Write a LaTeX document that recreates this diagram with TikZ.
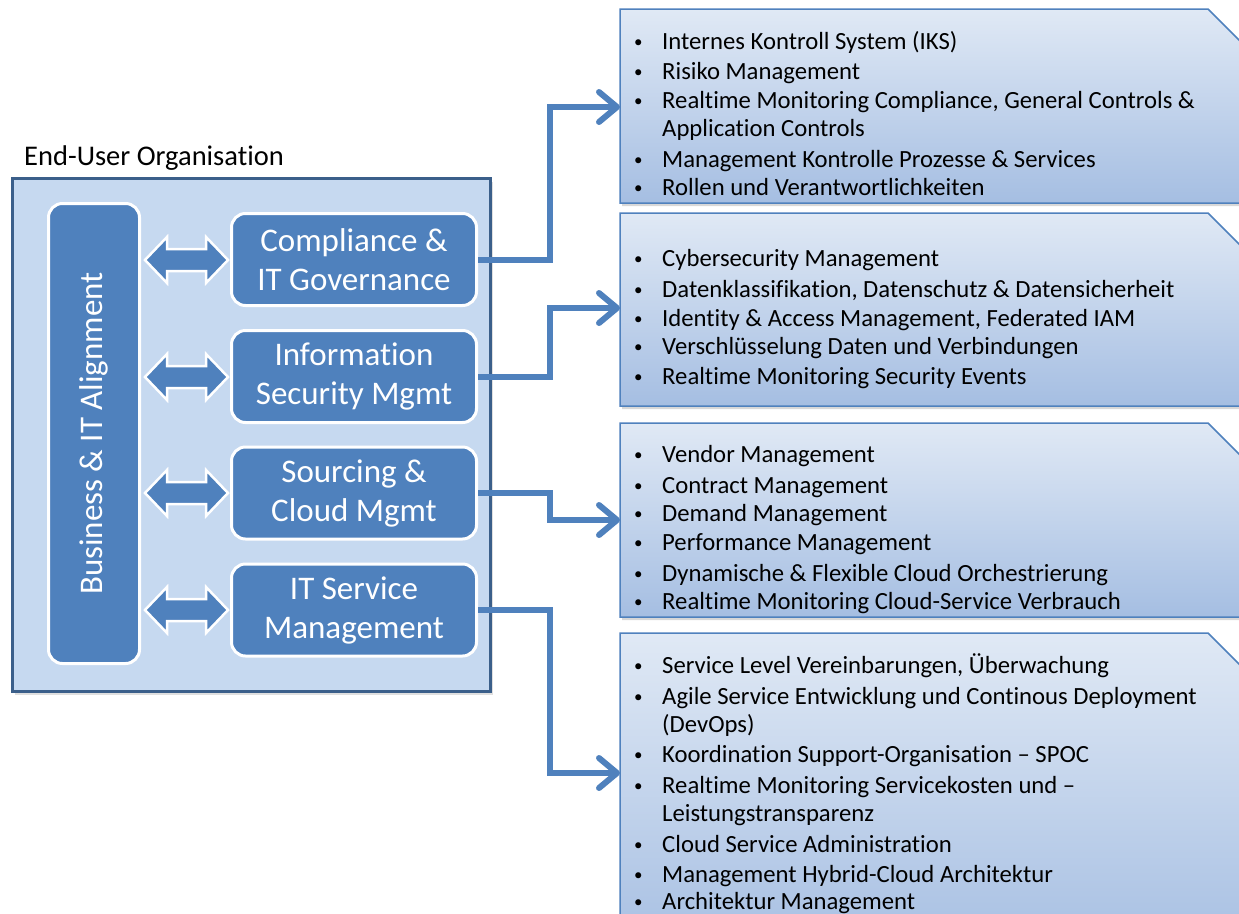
\documentclass[tikz,border=0pt]{standalone}
\usepackage{fontspec}
\setmainfont{Carlito}[Ligatures=NoCommon]
\usetikzlibrary{arrows.meta,shadows}
\definecolor{mblue}{HTML}{4F81BD}
\definecolor{dblue}{HTML}{3B5F8A}
\definecolor{lblue}{HTML}{C6D9F0}
\definecolor{gtop}{HTML}{E0E9F5}
\definecolor{gbot}{HTML}{A5BEE2}
\newcommand\dblarr[1]{\draw[dblarrow] (145,#1) -- (167,#1-23) -- (167,#1-11) -- (206,#1-11) -- (206,#1-23) -- (228,#1) -- (206,#1+23) -- (206,#1+11) -- (167,#1+11) -- (167,#1+23) -- cycle;}
\newcommand\lbox[2]{\path[listbox] (620,#1) -- (1208,#1) -- (1265,#1+57) -- (1265,#2) -- (620,#2) -- cycle;}
\newcommand\bulletmark{\makebox[28pt][l]{\raisebox{1.5pt}{\fontsize{17}{17}\selectfont •}}}
\newcommand\bitem[3]{\node[bul] (#1) at (634,#2) {\bulletmark#3};}
\newcommand\citem[3]{\node[bul] (#1) at (662,#2) {#3};}
\begin{document}
\begin{tikzpicture}[x=1pt,y=-1pt,
  outerbox/.style={draw=dblue, line width=3pt, fill=lblue, drop shadow={opacity=0.25, shadow xshift=2pt, shadow yshift=-3pt}},
  bluebox/.style={draw=white, line width=3pt, fill=mblue, rounded corners=14pt},
  boxlabel/.style={text=white, font=\fontsize{33}{39}\selectfont, align=center, inner sep=0pt},
  dblarrow/.style={draw=white, line width=2.5pt, fill=mblue, line join=miter},
  listbox/.style={draw=mblue, line width=1.5pt, top color=gtop, bottom color=gbot, drop shadow={opacity=0.3, shadow xshift=2pt, shadow yshift=-3pt}},
  conn/.style={draw=mblue, line width=6pt, -{Straight Barb[length=18pt,width=30pt,round]}},
  bul/.style={anchor=base west, inner sep=0pt, font=\fontsize{24.7}{29}\selectfont},
  ttl/.style={anchor=base west, inner sep=0pt, font=\fontsize{28.5}{32}\selectfont},
]
\useasboundingbox (0,0) rectangle (1239,913);
\fill[white] (0,0) rectangle (1239,913);

% left organisation block
\node[ttl] (title) at (24,165) {End-User Organisation};
\node[outerbox, minimum width=478pt, minimum height=513pt] (org) at (251.5,435) {};
\node[bluebox, boxlabel, rotate=90, minimum width=460pt, minimum height=91pt] (bia) at (94,433.5) {Business \& IT Alignment};
\node[bluebox, boxlabel, minimum width=245pt, minimum height=92pt] (cg) at (354,259.5) {Compliance \&\\IT Governance};
\node[bluebox, boxlabel, minimum width=245pt, minimum height=92pt] (isec) at (354,376.5) {Information\\Security Mgmt};
\node[bluebox, boxlabel, minimum width=245pt, minimum height=92pt] (scm) at (354,493) {Sourcing \&\\Cloud Mgmt};
\node[bluebox, boxlabel, minimum width=245pt, minimum height=92pt] (itsm) at (354,610) {IT Service\\Management};
\dblarr{260}
\dblarr{377}
\dblarr{493}
\dblarr{610}

% right list boxes
\begin{scope}
\clip (0,0) rectangle (1239,913);
\lbox{9}{203}
\lbox{213}{406}
\lbox{423}{617}
\lbox{633}{960}
\end{scope}
\coordinate (t1) at (620,107);
\coordinate (t2) at (620,308);
\coordinate (t3) at (620,520);
\coordinate (t4) at (620,773);

% connectors
\draw[conn] (cg.east) -- ++(72,0) |- (t1);
\draw[conn] (isec.east) -- ++(72,0) |- (t2);
\draw[conn] (scm.east) -- ++(72,0) |- (t3);
\draw[conn] (itsm.east) -- ++(72,0) |- (t4);

% list texts
\bitem{a1}{49}{Internes Kontroll System (IKS)}
\bitem{a2}{79}{Risiko Management}
\bitem{a3}{108}{Realtime Monitoring Compliance, General Controls \&}
\citem{a3b}{136}{Application Controls}
\bitem{a4}{167}{Management Kontrolle Prozesse \& Services}
\bitem{a5}{195}{Rollen und Verantwortlichkeiten}

\bitem{b1}{266}{Cybersecurity Management}
\bitem{b2}{297}{Datenklassifikation, Datenschutz \& Datensicherheit}
\bitem{b3}{326}{Identity \& Access Management, Federated IAM}
\bitem{b4}{354}{Verschlüsselung Daten und Verbindungen}
\bitem{b5}{384}{Realtime Monitoring Security Events}

\bitem{c1}{462}{Vendor Management}
\bitem{c2}{493}{Contract Management}
\bitem{c3}{521}{Demand Management}
\bitem{c4}{550}{Performance Management}
\bitem{c5}{581}{Dynamische \& Flexible Cloud Orchestrierung}
\bitem{c6}{609}{Realtime Monitoring Cloud-Service Verbrauch}

\bitem{d1}{673}{Service Level Vereinbarungen, Überwachung}
\bitem{d2}{704}{Agile Service Entwicklung und Continous Deployment}
\citem{d2b}{732}{(DevOps)}
\bitem{d3}{762}{Koordination Support-Organisation – SPOC}
\bitem{d4}{793}{Realtime Monitoring Servicekosten und –}
\citem{d4b}{821}{Leistungstransparenz}
\bitem{d5}{852}{Cloud Service Administration}
\bitem{d6}{882}{Management Hybrid-Cloud Architektur}
\bitem{d7}{909}{Architektur Management}
\end{tikzpicture}
\end{document}
